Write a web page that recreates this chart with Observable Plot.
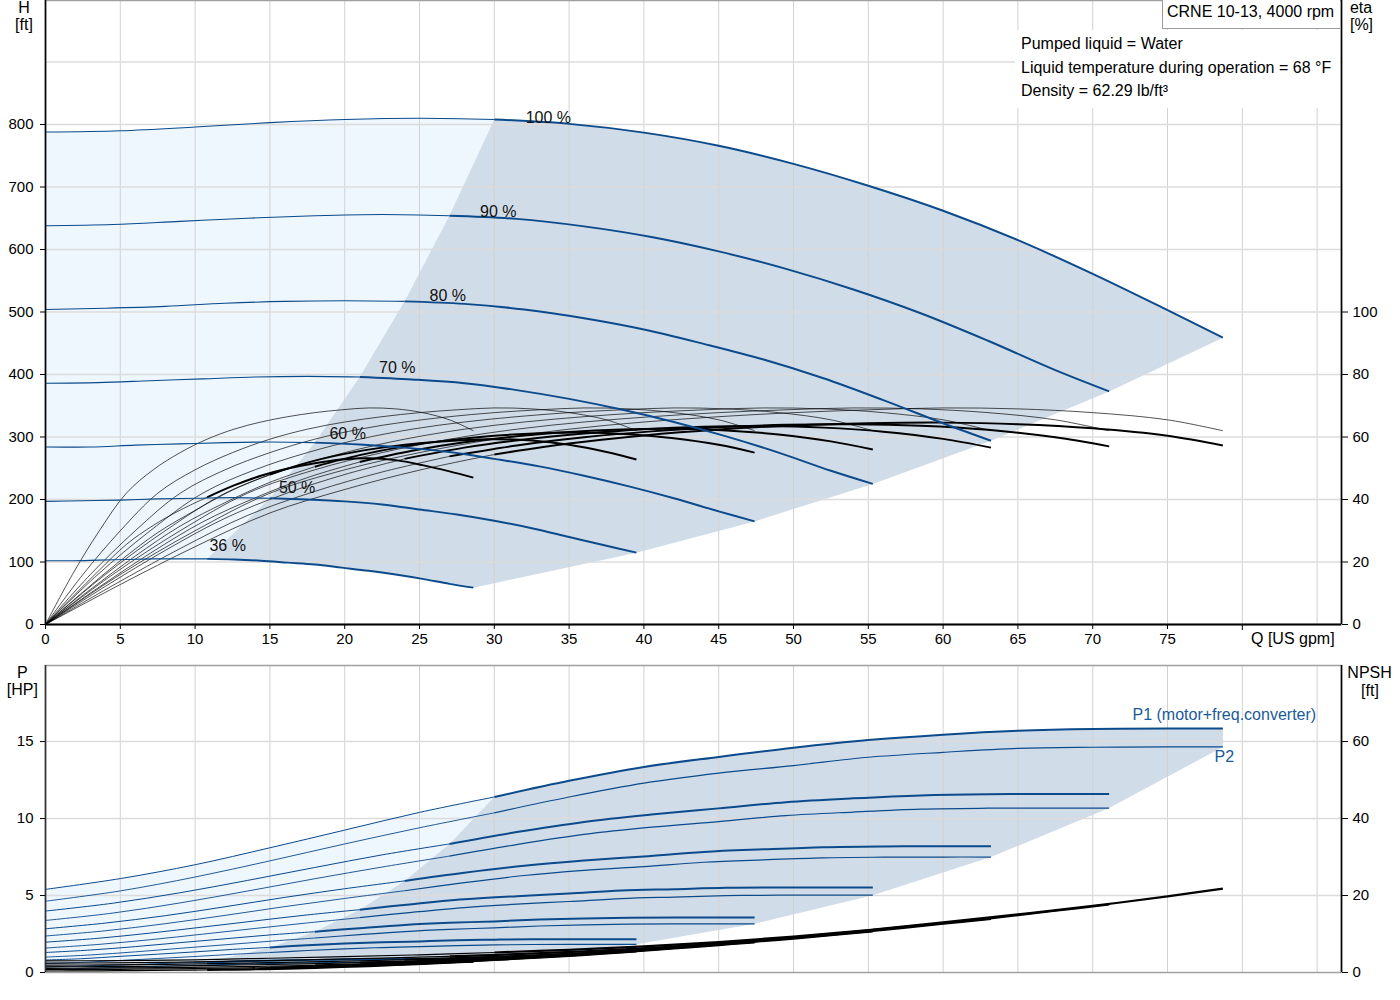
<!DOCTYPE html>
<html>
<head>
<meta charset="utf-8">
<script src="https://cdn.jsdelivr.net/npm/d3@7"></script>
<script src="https://cdn.jsdelivr.net/npm/@observablehq/plot@0.6"></script>
<style>
  body { margin: 0; background: #fff; }
  #wrap { position: relative; width: 1400px; height: 1000px; font-family: "Liberation Sans", Arial, sans-serif; color: #000; overflow: hidden; }
  #top, #bottom { position: absolute; left: 0; }
  #top { top: 0; }
  #bottom { top: 650px; }
  .t { position: absolute; font-size: 16px; line-height: 16px; white-space: nowrap; }
  .c { transform: translateX(-50%); }
  #infoBg { position: absolute; left: 1015px; top: 30px; width: 325px; height: 78px; background: #fff; }
  #titleBox { position: absolute; left: 1162px; top: 0px; width: 177px; height: 28px; background: #fff; border-left: 1.5px solid #9a9a9a; border-bottom: 1.5px solid #9a9a9a; }
</style>
</head>
<body>
<div id="wrap">
  <div id="top"></div>
  <div id="bottom"></div>
  <div id="infoBg"></div>
  <div id="titleBox"></div>
  <div class="t" style="left:1167px;top:3.5px">CRNE 10-13, 4000 rpm</div>
  <div class="t" style="left:1021px;top:35.7px">Pumped liquid = Water</div>
  <div class="t" style="left:1021px;top:59.7px">Liquid temperature during operation = 68 °F</div>
  <div class="t" style="left:1021px;top:83px">Density = 62.29 lb/ft³</div>
  <div class="t c" style="left:24px;top:0px">H</div>
  <div class="t c" style="left:24px;top:16.5px">[ft]</div>
  <div class="t c" style="left:1361px;top:-0.5px">eta</div>
  <div class="t c" style="left:1361.5px;top:16.5px">[%]</div>
  <div class="t" style="left:1251px;top:630.5px">Q [US gpm]</div>
  <div class="t c" style="left:22.3px;top:664.5px">P</div>
  <div class="t c" style="left:22.3px;top:682px">[HP]</div>
  <div class="t c" style="left:1369.6px;top:664.5px">NPSH</div>
  <div class="t c" style="left:1370px;top:682.5px">[ft]</div>
</div>
<script>
// ---------------- data ----------------
const speedLabels = ["100 %", "90 %", "80 %", "70 %", "60 %", "50 %", "36 %"];

// flow points of each speed curve [US gpm]
const flow = [
  [0, 5, 10, 15, 20, 25, 30, 35, 40, 45, 50, 55, 60, 65, 70, 75, 78.7],
  [0, 4.5, 9, 13.5, 18, 22.5, 27, 31.5, 36, 40.5, 45, 49.5, 54, 58.5, 63, 67.5, 71.1],
  [0, 4, 8, 12, 16, 20, 24, 28, 32, 36, 40, 44, 48, 52, 56, 60, 63.2],
  [0, 3.5, 7, 10.5, 14, 17.5, 21, 24.5, 28, 31.5, 35, 38.5, 42, 45.5, 49, 52.5, 55.3],
  [0, 3, 6, 9, 12, 15, 18, 21, 24, 27, 30, 33, 36, 39, 42, 45, 47.4],
  [0, 2.5, 5, 7.5, 10, 12.5, 15, 17.5, 20, 22.5, 25, 27.5, 30, 32.5, 35, 37.5, 39.5],
  [0, 1.8, 3.6, 5.4, 7.2, 9, 10.8, 12.6, 14.4, 16.2, 18, 19.8, 21.6, 23.4, 25.2, 27, 28.6]
];

// head H [ft]
const head = [
  [788, 790, 796, 803, 808, 810, 808, 801, 787, 766, 737, 702, 662, 615, 561, 503, 459],
  [638, 640, 645, 650, 654, 656, 654, 649, 637, 620, 597, 569, 536, 498, 454, 407, 373],
  [504, 506, 509, 514, 517, 518, 517, 513, 504, 490, 472, 449, 424, 394, 359, 322, 294],
  [386, 387, 390, 393, 396, 397, 396, 392, 386, 375, 361, 344, 324, 301, 275, 246, 225],
  [284, 284, 287, 289, 291, 292, 291, 288, 283, 276, 265, 253, 238, 221, 202, 181, 165],
  [197, 198, 199, 201, 202, 203, 202, 200, 197, 192, 184, 176, 166, 154, 140, 126, 115],
  [102, 102, 103, 104, 105, 105, 105, 104, 102, 99, 96, 91, 86, 80, 73, 65, 59]
];

// pump efficiency [%] (same reading at each speed's flow points)
const etaPump = [0, 16, 30, 42, 49.5, 55, 59.3, 62.5, 64.8, 66.5, 67.8, 68.7, 69.3, 69.0, 67.8, 65.5, 62];

// total efficiency [%]
const etaTotal = [
  [0, 12.8, 24.9, 35.7, 43.2, 49.4, 54.4, 57.9, 60.5, 62.4, 63.7, 64.4, 64.6, 64.1, 62.8, 60.4, 57.3],
  [0, 12.5, 24.3, 34.9, 42.6, 48.8, 53.8, 57.3, 59.9, 61.8, 63.1, 63.9, 64.1, 63.6, 62.3, 59.9, 57.0],
  [0, 12.2, 23.7, 34.0, 41.8, 48.0, 53.0, 56.6, 59.2, 61.1, 62.5, 63.3, 63.5, 63.0, 61.7, 59.4, 56.6],
  [0, 11.7, 22.8, 32.8, 40.5, 47.0, 52.0, 55.6, 58.3, 60.2, 61.6, 62.4, 62.6, 62.1, 60.8, 58.6, 56.0],
  [0, 11.2, 21.9, 31.5, 39.0, 45.5, 50.5, 54.2, 57.0, 59.0, 60.4, 61.2, 61.4, 60.9, 59.6, 57.5, 55.0],
  [0, 10.4, 20.4, 29.4, 36.5, 43.0, 48.0, 51.8, 54.6, 56.6, 58.0, 58.9, 59.3, 58.9, 57.5, 55.2, 52.8],
  [0, 8.8, 17.4, 25.6, 31.7, 36.6, 40.7, 44.5, 47.6, 49.9, 51.6, 52.8, 53.2, 52.6, 51.0, 49.0, 47.0]
];

// P1 (motor + freq. converter) [HP]
const powerP1 = [
  [5.40, 6.10, 7.00, 8.10, 9.25, 10.40, 11.40, 12.45, 13.35, 14.00, 14.60, 15.10, 15.45, 15.70, 15.82, 15.85, 15.85],
  [3.99, 4.50, 5.18, 5.98, 6.82, 7.64, 8.35, 9.12, 9.78, 10.26, 10.66, 11.06, 11.31, 11.50, 11.58, 11.59, 11.59],
  [2.84, 3.21, 3.69, 4.27, 4.88, 5.44, 5.95, 6.48, 6.93, 7.27, 7.54, 7.83, 8.00, 8.14, 8.19, 8.20, 8.20],
  [1.97, 2.22, 2.56, 2.95, 3.35, 3.74, 4.08, 4.44, 4.75, 4.96, 5.13, 5.32, 5.41, 5.50, 5.52, 5.52, 5.52],
  [1.30, 1.46, 1.68, 1.94, 2.19, 2.44, 2.65, 2.88, 3.09, 3.23, 3.32, 3.44, 3.51, 3.55, 3.57, 3.57, 3.57],
  [0.81, 0.90, 1.05, 1.19, 1.34, 1.50, 1.63, 1.77, 1.88, 1.96, 2.02, 2.09, 2.13, 2.16, 2.16, 2.16, 2.16],
  [0.37, 0.41, 0.45, 0.50, 0.56, 0.62, 0.66, 0.71, 0.76, 0.79, 0.82, 0.84, 0.86, 0.87, 0.87, 0.87, 0.87]
];

// P2 (shaft) [HP]
const powerP2 = [
  [4.63, 5.30, 6.20, 7.25, 8.35, 9.40, 10.37, 11.40, 12.30, 12.95, 13.44, 13.98, 14.30, 14.56, 14.63, 14.65, 14.65],
  [3.38, 3.86, 4.52, 5.29, 6.09, 6.85, 7.56, 8.31, 8.97, 9.44, 9.80, 10.19, 10.42, 10.61, 10.67, 10.68, 10.68],
  [2.37, 2.71, 3.17, 3.71, 4.28, 4.81, 5.31, 5.84, 6.30, 6.63, 6.88, 7.16, 7.32, 7.45, 7.49, 7.50, 7.50],
  [1.59, 1.82, 2.13, 2.49, 2.86, 3.22, 3.56, 3.91, 4.22, 4.44, 4.61, 4.80, 4.90, 4.99, 5.02, 5.02, 5.02],
  [1.00, 1.14, 1.34, 1.57, 1.80, 2.03, 2.24, 2.46, 2.66, 2.80, 2.90, 3.02, 3.09, 3.14, 3.16, 3.16, 3.16],
  [0.58, 0.66, 0.78, 0.91, 1.04, 1.18, 1.30, 1.43, 1.54, 1.62, 1.68, 1.75, 1.79, 1.82, 1.83, 1.83, 1.83],
  [0.22, 0.25, 0.29, 0.34, 0.39, 0.44, 0.48, 0.53, 0.57, 0.60, 0.63, 0.65, 0.67, 0.68, 0.68, 0.68, 0.68]
];

// NPSH [ft]
const npsh = [
  [3.00, 3.10, 3.30, 3.70, 4.10, 4.60, 5.20, 5.90, 6.80, 7.90, 9.30, 11.00, 13.00, 15.10, 17.30, 19.80, 21.80],
  [2.43, 2.51, 2.67, 3.00, 3.32, 3.73, 4.21, 4.78, 5.51, 6.40, 7.53, 8.91, 10.53, 12.23, 14.01, 16.04, 17.66],
  [1.92, 1.98, 2.11, 2.37, 2.62, 2.94, 3.33, 3.78, 4.35, 5.06, 5.95, 7.04, 8.32, 9.66, 11.07, 12.67, 13.95],
  [1.47, 1.52, 1.62, 1.81, 2.01, 2.25, 2.55, 2.89, 3.33, 3.87, 4.56, 5.39, 6.37, 7.40, 8.48, 9.70, 10.68],
  [1.08, 1.12, 1.19, 1.33, 1.48, 1.66, 1.87, 2.12, 2.45, 2.84, 3.35, 3.96, 4.68, 5.44, 6.23, 7.13, 7.85],
  [0.75, 0.78, 0.83, 0.93, 1.03, 1.15, 1.30, 1.48, 1.70, 1.98, 2.33, 2.75, 3.25, 3.78, 4.33, 4.95, 5.45],
  [0.39, 0.40, 0.43, 0.48, 0.53, 0.60, 0.67, 0.76, 0.88, 1.02, 1.21, 1.43, 1.68, 1.96, 2.24, 2.57, 2.83]
];

const minFlowIndex = 6;                       // start of the allowed operating range
const labelFlow = [32.1, 29.05, 25.67, 22.3, 18.98, 15.6, 10.96];
const labelHead = [802, 652, 518, 402, 297, 211, 118];
const powerLabelText = ["P1 (motor+freq.converter)", "P2"];
const powerLabelFlow = [72.66, 78.14];
const powerLabelValue = [16.43, 13.7];

// axes
const qDomain = [0, 86.63];
const hDomain = [0, 998.4];
const pDomain = [0, 19.94];
const qTicks = [0, 5, 10, 15, 20, 25, 30, 35, 40, 45, 50, 55, 60, 65, 70, 75];
const qExtraTick = [80];
const qGrid = [5, 10, 15, 20, 25, 30, 35, 40, 45, 50, 55, 60, 65, 70, 75, 80, 85];
const hTicks = [0, 100, 200, 300, 400, 500, 600, 700, 800];
const hGrid = [100, 200, 300, 400, 500, 600, 700, 800, 900];
const etaTicks = [0, 20, 40, 60, 80, 100];
const ftPerEtaPct = 5;       // eta axis: 100 % sits on 500 ft
const pTicks = [0, 5, 10, 15];
const pGrid = [5, 10, 15];
const npshTicks = [0, 20, 40, 60];
const npshFtPerHp = 4;       // NPSH axis: 60 ft sits on 15 HP

// ---------------- styling ----------------
const BLUE = "#0b4a8b";
const LIGHT = "#eef6fe";
const DARK = "#d0dce8";
const FONT = '"Liberation Sans", Arial, sans-serif';

// ---------------- helpers ----------------
const last = flow[0].length - 1;
const idx = d3.range(flow[0].length);
const valAt = (vals, k, i) => Array.isArray(vals[k]) ? vals[k][i] : vals[i];
function seg(vals, lo, hi, scale = 1) {
  return speedLabels.flatMap((s, k) =>
    idx.filter(i => i >= lo && i <= hi).map(i => ({s, q: flow[k][i], v: valAt(vals, k, i) * scale})));
}
const pt = (vals, k, i, scale = 1) => ({q: flow[k][i], v: valAt(vals, k, i) * scale});
const lowest = speedLabels.length - 1;

// top fills
const topLight = [
  ...idx.filter(i => i <= minFlowIndex).map(i => pt(head, 0, i)),
  ...idx.slice().reverse().map(i => pt(head, lowest, i))
];
const topDark = [
  ...d3.range(lowest, -1, -1).map(k => pt(head, k, minFlowIndex)),
  ...idx.filter(i => i > minFlowIndex).map(i => pt(head, 0, i)),
  ...d3.range(1, lowest + 1).map(k => pt(head, k, last)),
  ...idx.filter(i => i > minFlowIndex && i < last).reverse().map(i => pt(head, lowest, i))
];
// bottom fills
const botLight = [
  ...idx.filter(i => i <= minFlowIndex).map(i => pt(powerP1, 0, i)),
  ...idx.slice().reverse().map(i => pt(powerP2, lowest, i))
];
const botDark = [
  ...d3.range(lowest, -1, -1).map(k => pt(powerP1, k, minFlowIndex)),
  ...idx.filter(i => i > minFlowIndex).map(i => pt(powerP1, 0, i)),
  ...d3.range(0, lowest + 1).map(k => pt(powerP2, k, last)),
  ...idx.filter(i => i >= minFlowIndex && i < last).reverse().map(i => pt(powerP2, lowest, i))
];

const curveLabels = speedLabels.map((s, k) => ({s, q: labelFlow[k], v: labelHead[k]}));
const powerLabels = powerLabelText.map((t, k) => ({t, q: powerLabelFlow[k], v: powerLabelValue[k]}));

const lineOpts = (o) => Object.assign({x: "q", y: "v", z: "s", curve: "catmull-rom", strokeLinecap: "butt"}, o);

// ---------------- top chart ----------------
const topPlot = Plot.plot({
  width: 1400, height: 655,
  marginLeft: 45, marginRight: 59, marginTop: 0, marginBottom: 31,
  x: {domain: qDomain, axis: null, label: null},
  y: {domain: hDomain, axis: null, label: null},
  style: {fontFamily: FONT, fontSize: "15px", color: "#000", background: "transparent", overflow: "visible"},
  marks: [
    Plot.line(topLight, {x: "q", y: "v", fill: LIGHT, stroke: "none", curve: "linear"}),
    Plot.line(topDark, {x: "q", y: "v", fill: DARK, stroke: "none", curve: "linear"}),
    Plot.ruleX(qGrid, {stroke: "#d2d2d2", strokeWidth: 1}),
    Plot.ruleY(hGrid, {stroke: "#dcdcdc", strokeWidth: 1.6}),
    Plot.frame({stroke: "#a0a0a0", strokeWidth: 1.5}),
    // efficiency curves
    Plot.line(seg(etaPump, 0, last, ftPerEtaPct), lineOpts({stroke: "#000", strokeWidth: 0.8, strokeOpacity: 0.85})),
    Plot.line(seg(etaTotal, 0, minFlowIndex, ftPerEtaPct), lineOpts({stroke: "#000", strokeWidth: 0.8, strokeOpacity: 0.85})),
    Plot.line(seg(etaTotal, minFlowIndex, last, ftPerEtaPct), lineOpts({stroke: "#000", strokeWidth: 2})),
    // QH curves
    Plot.line(seg(head, 0, minFlowIndex), lineOpts({stroke: BLUE, strokeWidth: 1.1})),
    Plot.line(seg(head, minFlowIndex, last), lineOpts({stroke: BLUE, strokeWidth: 2})),
    Plot.text(curveLabels, {x: "q", y: "v", text: "s", textAnchor: "start", lineAnchor: "bottom", fontSize: 16, fill: "#111"}),
    // axes
    Plot.axisX(qTicks, {tickSize: 5, tickPadding: 4, label: null}),
    Plot.axisX(qExtraTick, {tickSize: 6, tickFormat: () => "", label: null}),
    Plot.axisY(hTicks, {tickSize: 5, tickPadding: 7, label: null}),
    Plot.axisY(etaTicks.map(e => e * ftPerEtaPct), {anchor: "right", tickSize: 6, tickPadding: 5, tickFormat: d => d / ftPerEtaPct, label: null}),
    Plot.ruleX([qDomain[0]], {stroke: "#000", strokeWidth: 1.6}),
    Plot.ruleX([qDomain[1]], {stroke: "#000", strokeWidth: 1.6}),
    Plot.ruleY([hDomain[0]], {stroke: "#000", strokeWidth: 2})
  ]
});
document.getElementById("top").append(topPlot);

// ---------------- bottom chart ----------------
const botPlot = Plot.plot({
  width: 1400, height: 342,
  marginLeft: 45, marginRight: 59, marginTop: 15, marginBottom: 20,
  x: {domain: qDomain, axis: null, label: null},
  y: {domain: pDomain, axis: null, label: null},
  style: {fontFamily: FONT, fontSize: "15px", color: "#000", background: "transparent", overflow: "visible"},
  marks: [
    Plot.line(botLight, {x: "q", y: "v", fill: LIGHT, stroke: "none", curve: "linear"}),
    Plot.line(botDark, {x: "q", y: "v", fill: DARK, stroke: "none", curve: "linear"}),
    Plot.ruleX(qGrid, {stroke: "#d2d2d2", strokeWidth: 1}),
    Plot.ruleY(pGrid, {stroke: "#dcdcdc", strokeWidth: 1.6}),
    Plot.frame({stroke: "#a0a0a0", strokeWidth: 1.5}),
    // power curves
    Plot.line(seg(powerP2, 0, minFlowIndex), lineOpts({stroke: BLUE, strokeWidth: 0.9})),
    Plot.line(seg(powerP2, minFlowIndex, last), lineOpts({stroke: BLUE, strokeWidth: 1.2})),
    Plot.line(seg(powerP1, 0, minFlowIndex), lineOpts({stroke: BLUE, strokeWidth: 1})),
    Plot.line(seg(powerP1, minFlowIndex, last), lineOpts({stroke: BLUE, strokeWidth: 2})),
    // NPSH curves
    Plot.line(seg(npsh, 0, minFlowIndex, 1 / npshFtPerHp), lineOpts({stroke: "#000", strokeWidth: 1.2})),
    Plot.line(seg(npsh, minFlowIndex, last, 1 / npshFtPerHp), lineOpts({stroke: "#000", strokeWidth: 2.2})),
    Plot.text(powerLabels, {x: "q", y: "v", text: "t", textAnchor: "start", lineAnchor: "bottom", fontSize: 16, fill: "#1b5a99"}),
    // axes
    Plot.axisY(pTicks, {tickSize: 5, tickPadding: 7, label: null}),
    Plot.axisY(npshTicks.map(n => n / npshFtPerHp), {anchor: "right", tickSize: 6, tickPadding: 5, tickFormat: d => d * npshFtPerHp, label: null}),
    Plot.ruleX([qDomain[0]], {stroke: "#333", strokeWidth: 1.6}),
    Plot.ruleX([qDomain[1]], {stroke: "#000", strokeWidth: 1.6})
  ]
});
document.getElementById("bottom").append(botPlot);
</script>
</body>
</html>
